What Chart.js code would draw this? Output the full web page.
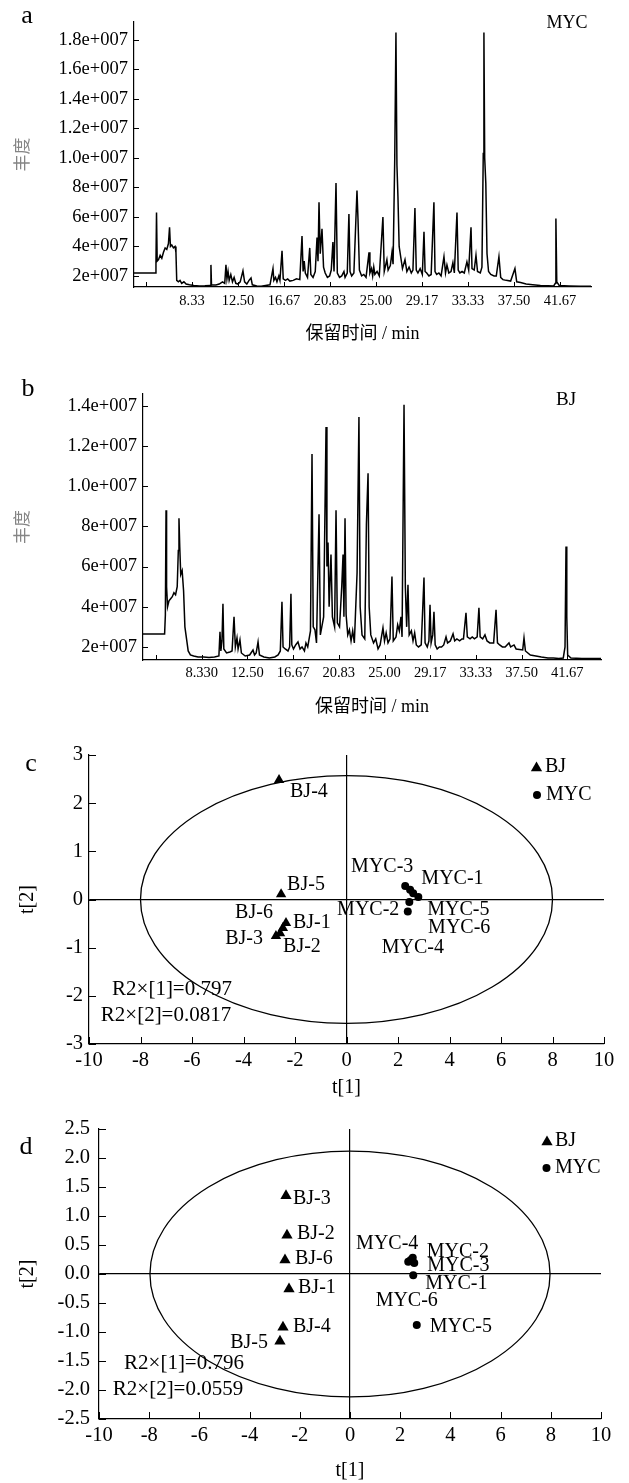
<!DOCTYPE html>
<html>
<head>
<meta charset="utf-8">
<script src="https://cdn.jsdelivr.net/npm/chart.js@4.4.0/dist/chart.umd.min.js"></script>
<style>
  body { margin: 0; background: #fff; }
  #wrap { position: relative; width: 629px; height: 1483px; }
  canvas { position: absolute; left: 0; }
</style>
</head>
<body>
<div id="wrap">
  <canvas id="chartA" width="629" height="345" style="top:0px"></canvas>
  <canvas id="chartB" width="629" height="380" style="top:345px"></canvas>
  <canvas id="chartC" width="629" height="375" style="top:725px"></canvas>
  <canvas id="chartD" width="629" height="383" style="top:1100px"></canvas>
</div>
<script>
// chromatogram traces: [retention time (min), abundance (x1e6)]
const traceMYC = [
  [3.08,2.2],[5.0,2.2],[5.07,2.9],[5.12,6.3],[5.18,3.0],[5.3,3.1],[5.45,3.4],[5.6,3.2],[5.75,3.6],[5.9,3.9],
  [6.05,3.8],[6.2,4.2],[6.3,5.3],[6.38,4.0],[6.5,4.1],[6.65,3.9],[6.8,4.0],[6.88,3.6],[6.95,1.7],[7.1,1.6],
  [7.25,1.7],[7.4,1.5],[7.6,1.6],[7.8,1.45],[8.1,1.4],[8.5,1.35],[9.0,1.32],[9.5,1.33],[9.98,1.35],[10.05,2.75],
  [10.1,1.4],[10.5,1.38],[10.8,1.45],[11.1,1.6],[11.3,1.5],[11.41,2.75],[11.5,1.8],[11.6,2.3],[11.7,1.7],[11.85,2.1],
  [12.0,1.6],[12.15,1.9],[12.3,1.5],[12.5,1.45],[12.7,1.6],[12.95,2.35],[13.1,1.6],[13.3,1.45],[13.5,1.7],[13.68,1.86],
  [13.8,1.4],[14.2,1.32],[14.6,1.3],[15.0,1.35],[15.4,1.4],[15.67,2.5],[15.75,1.7],[15.9,1.9],[16.03,1.6],[16.2,2.0],
  [16.3,1.7],[16.49,3.7],[16.6,1.8],[16.8,1.7],[17.0,1.8],[17.2,1.65],[17.5,1.7],[17.8,1.8],[18.1,1.75],[18.3,4.7],
  [18.4,2.3],[18.5,3.0],[18.6,2.2],[18.8,1.9],[19.0,3.9],[19.1,2.1],[19.3,1.9],[19.5,2.3],[19.66,4.6],[19.75,3.0],
  [19.84,7.0],[19.95,3.5],[20.11,5.2],[20.25,2.6],[20.4,2.2],[20.6,1.9],[20.8,2.0],[20.95,2.4],[21.1,4.3],[21.2,2.3],
  [21.38,8.3],[21.5,2.2],[21.7,1.9],[21.9,2.0],[22.1,2.3],[22.2,1.9],[22.4,2.2],[22.55,6.2],[22.65,2.3],[22.8,2.0],
  [23.0,2.2],[23.28,7.8],[23.37,5.9],[23.5,2.4],[23.7,2.0],[23.9,2.1],[24.1,1.9],[24.37,3.6],[24.45,2.2],[24.6,2.5],
  [24.7,2.0],[24.8,2.6],[24.9,2.1],[25.1,2.3],[25.3,2.0],[25.63,6.0],[25.75,2.3],[25.99,3.1],[26.1,2.4],[26.3,2.7],
  [26.45,3.6],[26.55,2.8],[26.7,9.9],[26.81,18.5],[26.9,9.5],[26.99,7.4],[27.1,4.0],[27.26,3.2],[27.4,2.5],[27.63,3.1],
  [27.8,2.3],[28.0,2.6],[28.2,2.2],[28.35,2.4],[28.53,6.6],[28.65,2.4],[28.8,2.2],[29.0,2.5],[29.2,2.1],[29.35,5.0],
  [29.45,2.3],[29.6,2.2],[29.8,2.0],[30.0,2.1],[30.25,7.0],[30.35,2.3],[30.5,2.1],[30.7,2.2],[30.9,2.0],[31.16,3.3],
  [31.3,2.2],[31.43,2.75],[31.6,2.2],[31.8,2.3],[31.97,2.9],[32.1,2.2],[32.34,6.3],[32.45,2.4],[32.6,2.2],[32.8,2.3],
  [33.0,2.2],[33.24,2.95],[33.4,2.4],[33.61,5.3],[33.7,2.5],[33.9,2.4],[34.06,3.4],[34.2,2.3],[34.45,2.2],[34.6,2.6],
  [34.72,10.3],[34.78,18.5],[34.85,10.0],[34.95,8.3],[35.06,3.5],[35.2,2.3],[35.4,2.1],[35.7,2.0],[35.9,2.0],[36.14,3.3],
  [36.3,1.9],[36.5,1.75],[36.8,1.7],[37.2,1.65],[37.59,2.5],[37.75,1.6],[38.1,1.55],[38.6,1.45],[39.2,1.4],[39.9,1.35],
  [40.6,1.33],[41.1,1.32],[41.25,1.5],[41.3,5.9],[41.38,1.6],[41.6,1.35],[42.5,1.32],[43.5,1.3],[44.48,1.3]
];
const traceBJ = [
  [2.98,2.65],[4.95,2.65],[5.02,3.6],[5.08,8.8],[5.13,5.0],[5.22,4.0],[5.35,4.3],[5.5,4.4],[5.65,4.5],[5.8,4.7],
  [5.95,4.6],[6.1,5.0],[6.2,6.8],[6.26,8.4],[6.33,7.0],[6.42,5.6],[6.55,5.8],[6.68,4.8],[6.8,3.0],[6.95,2.4],
  [7.1,1.8],[7.3,1.6],[7.6,1.55],[8.0,1.5],[8.5,1.5],[9.0,1.48],[9.5,1.5],[9.9,1.55],[10.0,2.75],[10.08,1.8],
  [10.18,2.3],[10.27,4.15],[10.35,1.9],[10.6,1.7],[10.9,1.75],[11.1,1.8],[11.28,3.5],[11.4,2.0],[11.55,2.45],[11.65,1.9],
  [11.82,2.35],[11.95,1.7],[12.3,1.55],[12.7,1.6],[13.01,1.85],[13.15,1.6],[13.3,1.7],[13.47,2.25],[13.6,1.6],[14.0,1.5],
  [14.5,1.45],[15.0,1.5],[15.3,1.6],[15.5,1.8],[15.65,4.25],[15.75,2.0],[15.95,1.9],[16.2,1.8],[16.35,2.0],[16.47,4.65],
  [16.55,2.1],[16.7,1.9],[16.9,2.1],[17.11,2.25],[17.3,1.9],[17.48,2.0],[17.7,1.8],[17.84,2.2],[18.0,2.0],[18.25,2.8],
  [18.39,11.6],[18.5,3.0],[18.66,2.85],[18.8,2.2],[19.03,8.6],[19.15,2.6],[19.45,3.5],[19.67,12.95],[19.75,6.0],[19.85,7.2],
  [19.95,4.0],[20.12,6.6],[20.25,3.5],[20.45,3.0],[20.58,8.8],[20.7,3.2],[20.9,3.0],[21.1,5.0],[21.22,6.6],[21.3,3.5],
  [21.4,8.4],[21.5,3.6],[21.65,2.6],[21.8,2.85],[21.95,2.3],[22.1,2.8],[22.25,2.2],[22.5,5.7],[22.67,13.45],[22.78,4.0],
  [22.95,2.6],[23.2,2.4],[23.35,8.1],[23.5,10.65],[23.6,4.0],[23.75,2.6],[24.0,2.2],[24.2,2.4],[24.41,1.9],[24.6,2.1],
  [24.86,2.95],[25.0,2.3],[25.15,2.7],[25.32,2.2],[25.5,2.4],[25.68,5.5],[25.8,2.3],[26.05,2.5],[26.2,3.1],[26.35,2.8],
  [26.5,3.5],[26.6,2.5],[26.78,14.05],[26.9,5.0],[27.02,3.0],[27.14,5.1],[27.25,2.6],[27.45,2.8],[27.6,2.3],[27.75,2.7],
  [27.9,2.1],[28.1,2.0],[28.35,2.1],[28.6,5.45],[28.7,2.2],[28.9,2.0],[29.05,2.3],[29.15,4.1],[29.25,2.2],[29.4,2.6],
  [29.51,3.75],[29.62,2.1],[29.8,1.9],[30.0,2.0],[30.2,2.0],[30.4,2.1],[30.61,2.5],[30.75,2.2],[31.0,2.3],[31.25,2.65],
  [31.4,2.3],[31.6,2.4],[31.85,2.3],[32.06,2.4],[32.2,2.4],[32.43,3.7],[32.55,2.5],[32.8,2.4],[33.0,2.5],[33.2,2.4],
  [33.45,2.5],[33.61,3.95],[33.72,2.5],[33.95,2.4],[34.16,2.6],[34.35,2.3],[34.6,2.2],[34.95,2.2],[35.17,3.85],[35.3,2.2],
  [35.5,2.1],[35.75,2.0],[36.0,2.0],[36.35,2.2],[36.5,2.0],[36.81,2.1],[37.0,1.9],[37.6,1.85],[37.72,2.45],[37.85,1.8],
  [38.3,1.6],[38.8,1.55],[39.3,1.5],[39.9,1.45],[40.4,1.45],[40.9,1.42],[41.3,1.45],[41.46,2.0],[41.55,7.0],[41.62,3.5],
  [41.7,1.6],[42.0,1.45],[43.0,1.42],[44.74,1.42]
];

// axis ticks for the chromatograms
const timeTicks = [4.1667, 8.3333, 12.5, 16.6667, 20.8333, 25, 29.1667, 33.3333, 37.5, 41.6667];
const timeLabelsA = ['', '8.33', '12.50', '16.67', '20.83', '25.00', '29.17', '33.33', '37.50', '41.67'];
const timeLabelsB = ['', '8.330', '12.50', '16.67', '20.83', '25.00', '29.17', '33.33', '37.50', '41.67'];
const abundTicksA = [2, 4, 6, 8, 10, 12, 14, 16, 18];
const abundLabelsA = ['2e+007', '4e+007', '6e+007', '8e+007', '1.0e+007', '1.2e+007', '1.4e+007', '1.6e+007', '1.8e+007'];
const abundTicksB = [2, 4, 6, 8, 10, 12, 14];
const abundLabelsB = ['2e+007', '4e+007', '6e+007', '8e+007', '1.0e+007', '1.2e+007', '1.4e+007'];

// PCA scores
const bjNames = ['BJ-1', 'BJ-2', 'BJ-3', 'BJ-4', 'BJ-5', 'BJ-6'];
const mycNames = ['MYC-1', 'MYC-2', 'MYC-3', 'MYC-4', 'MYC-5', 'MYC-6'];
const bjC_t1 = [-2.35, -2.58, -2.74, -2.62, -2.54, -2.47];
const bjC_t2 = [-0.49, -0.70, -0.76, 2.48, 0.11, -0.59];
const mycC_t1 = [2.79, 2.44, 2.28, 2.38, 2.59, 2.47];
const mycC_t2 = [0.05, -0.05, 0.28, -0.25, 0.13, 0.20];
const bjD_t1 = [-2.43, -2.51, -2.55, -2.67, -2.79, -2.59];
const bjD_t2 = [-0.26, 0.67, 1.35, -0.92, -1.16, 0.24];
const mycD_t1 = [2.52, 2.50, 2.56, 2.32, 2.66, 2.42];
const mycD_t2 = [-0.02, 0.28, 0.19, 0.21, -0.88, 0.24];

// label placement (pixels from marker): dx, dy, align
const bjC_off = [[7,0,'left'],[3,14,'left'],[-13,3,'right'],[11,12,'left'],[6,-9,'left'],[-10,-15,'right']];
const mycC_off = [[3,-18,'left'],[-10,8,'right'],[-23,-19,'center'],[5,36,'center'],[14,17,'left'],[18,38,'left']];
const bjD_off = [[9,-1,'left'],[10,-1,'left'],[7,3,'left'],[10,-1,'left'],[-12,1,'right'],[10,-1,'left']];
const mycD_off = [[12,9,'left'],[14,-6,'left'],[13,3,'left'],[-21,-18,'center'],[13,2,'left'],[-4,41,'center']];

const SERIF = "'Liberation Serif', 'Times New Roman', serif";
const MIXED = "'Liberation Serif', 'Noto Sans CJK SC', serif";

function drawTri(ctx, x, y, r) {
  ctx.beginPath();
  ctx.moveTo(x, y - r);
  ctx.lineTo(x + r * 0.866, y + r / 2);
  ctx.lineTo(x - r * 0.866, y + r / 2);
  ctx.closePath();
  ctx.fill();
}

function annotPlugin(items) {
  return {
    id: 'annot',
    afterDraw(chart) {
      const ctx = chart.ctx;
      ctx.save();
      items.forEach(it => {
        ctx.fillStyle = '#000';
        if (it.shape === 'tri') drawTri(ctx, it.x, it.y, it.r);
        else if (it.shape === 'dot') { ctx.beginPath(); ctx.arc(it.x, it.y, it.r, 0, Math.PI * 2); ctx.fill(); }
        else {
          ctx.font = it.font;
          ctx.textAlign = it.align || 'left';
          ctx.textBaseline = 'middle';
          ctx.fillText(it.text, it.x, it.y);
        }
      });
      ctx.restore();
    }
  };
}

// tick marks pointing into the plot
function innerTicks(len) {
  return {
    id: 'innerTicks',
    afterDraw(chart) {
      const {ctx, chartArea, scales} = chart;
      ctx.save();
      ctx.strokeStyle = '#000';
      ctx.lineWidth = 1;
      ctx.beginPath();
      scales.x.ticks.forEach(t => {
        const p = Math.round(scales.x.getPixelForValue(t.value)) + 0.5;
        ctx.moveTo(p, chartArea.bottom);
        ctx.lineTo(p, chartArea.bottom - len);
      });
      scales.y.ticks.forEach(t => {
        const p = Math.round(scales.y.getPixelForValue(t.value)) + 0.5;
        ctx.moveTo(chartArea.left, p);
        ctx.lineTo(chartArea.left + len, p);
      });
      ctx.stroke();
      ctx.restore();
    }
  };
}

function ellipsePlugin(a, b) {
  return {
    id: 'ellipse',
    beforeDatasetsDraw(chart) {
      const {ctx, scales: {x, y}} = chart;
      const cx = x.getPixelForValue(0), cy = y.getPixelForValue(0);
      ctx.save();
      ctx.beginPath();
      ctx.ellipse(cx, cy, x.getPixelForValue(a) - cx, cy - y.getPixelForValue(b), 0, 0, Math.PI * 2);
      ctx.lineWidth = 1.3;
      ctx.strokeStyle = '#000';
      ctx.stroke();
      ctx.restore();
    }
  };
}

const pointLabels = {
  id: 'pointLabels',
  afterDatasetsDraw(chart) {
    const ctx = chart.ctx;
    ctx.save();
    ctx.font = '20px ' + SERIF;
    ctx.fillStyle = '#000';
    ctx.textBaseline = 'middle';
    chart.data.datasets.forEach((ds, di) => {
      chart.getDatasetMeta(di).data.forEach((pt, i) => {
        const o = ds.offsets[i];
        ctx.textAlign = o[2];
        ctx.fillText(ds.names[i], pt.x + o[0], pt.y + o[1]);
      });
    });
    ctx.restore();
  }
};

function chromChart(id, cfg) {
  new Chart(document.getElementById(id), {
    type: 'line',
    data: {
      datasets: [{
        data: cfg.trace.map(p => ({x: p[0], y: p[1]})),
        borderColor: '#000',
        borderWidth: 1.5,
        pointRadius: 0,
        tension: 0,
        fill: false
      }]
    },
    options: {
      responsive: false,
      animation: false,
      devicePixelRatio: 1,
      layout: {padding: {left: 0, top: cfg.top, right: cfg.right, bottom: 0}},
      plugins: {legend: {display: false}, tooltip: {enabled: false}},
      scales: {
        x: {
          type: 'linear', min: cfg.xMin, max: cfg.xMax,
          afterBuildTicks: s => { s.ticks = timeTicks.map(v => ({value: v})); },
          afterFit: s => { s.height = cfg.xH; },
          grid: {display: false, drawTicks: false},
          border: {display: true, color: '#000', width: 1.2},
          ticks: {callback: (v, i) => cfg.xLabels[i], autoSkip: false, maxRotation: 0,
                  font: {family: SERIF, size: 14.5}, color: '#000', padding: cfg.xPad},
          title: {display: true, text: '保留时间 / min', color: '#000',
                  font: {family: MIXED, size: 18}, padding: {top: 0, bottom: cfg.xTitlePad}}
        },
        y: {
          type: 'linear', min: cfg.yMin, max: cfg.yMax,
          afterBuildTicks: s => { s.ticks = cfg.yTicks.map(v => ({value: v})); },
          afterFit: s => { s.width = cfg.yW; },
          grid: {display: false, drawTicks: false},
          border: {display: true, color: '#000', width: 1.2},
          ticks: {callback: (v, i) => cfg.yLabels[i], autoSkip: false,
                  font: {family: SERIF, size: 18.5}, color: '#000', padding: 6},
          title: {display: true, text: '丰度', color: '#858585',
                  font: {family: MIXED, size: 17}, padding: {top: 13, bottom: 0}}
        }
      }
    },
    plugins: [innerTicks(5), annotPlugin(cfg.annot)]
  });
}

function pcaChart(id, cfg) {
  const zeroLine = c => (c.tick && c.tick.value === 0 ? '#000' : 'rgba(0,0,0,0)');
  new Chart(document.getElementById(id), {
    type: 'scatter',
    data: {
      datasets: [
        {label: 'BJ', data: cfg.bj1.map((v, i) => ({x: v, y: cfg.bj2[i]})),
         pointStyle: 'triangle', pointRadius: cfg.triR, backgroundColor: '#000', borderColor: '#000', borderWidth: 0,
         names: bjNames, offsets: cfg.bjOff},
        {label: 'MYC', data: cfg.myc1.map((v, i) => ({x: v, y: cfg.myc2[i]})),
         pointStyle: 'circle', pointRadius: 4, backgroundColor: '#000', borderColor: '#000', borderWidth: 0,
         names: mycNames, offsets: cfg.mycOff}
      ]
    },
    options: {
      responsive: false,
      animation: false,
      devicePixelRatio: 1,
      layout: {padding: {left: 0, top: cfg.top, right: cfg.right, bottom: 0}},
      plugins: {legend: {display: false}, tooltip: {enabled: false}},
      scales: {
        x: {
          type: 'linear', min: -10, max: 10,
          afterFit: s => { s.height = cfg.xH; },
          grid: {display: true, drawTicks: false, color: zeroLine, lineWidth: 1.2},
          border: {display: true, color: '#000', width: 1.2},
          ticks: {stepSize: 2, callback: v => String(v), autoSkip: false, maxRotation: 0,
                  font: {family: SERIF, size: 20.5}, color: '#000', padding: 4},
          title: {display: true, text: 't[1]', color: '#000',
                  font: {family: SERIF, size: 20}, padding: {top: 0, bottom: 0}}
        },
        y: {
          type: 'linear', min: cfg.yMin, max: cfg.yMax,
          afterFit: s => { s.width = cfg.yW; },
          grid: {display: true, drawTicks: false, color: zeroLine, lineWidth: 1.2},
          border: {display: true, color: '#000', width: 1.2},
          ticks: {stepSize: cfg.yStep, callback: cfg.yFmt, autoSkip: false,
                  font: {family: SERIF, size: 20.5}, color: '#000', padding: cfg.yPad},
          title: {display: true, text: 't[2]', color: '#000',
                  font: {family: SERIF, size: 20}, padding: {top: 16, bottom: 0}}
        }
      }
    },
    plugins: [ellipsePlugin(cfg.ea, cfg.eb), innerTicks(7), pointLabels, annotPlugin(cfg.annot)]
  });
}

chromChart('chartA', {
  trace: traceMYC, xMin: 3.08, xMax: 44.48, yMin: 1.25, yMax: 19.22,
  xLabels: timeLabelsA, yTicks: abundTicksA, yLabels: abundLabelsA,
  top: 22, right: 38, xH: 58, yW: 134, xPad: 5, xTitlePad: 0,
  annot: [
    {text: 'a', x: 27, y: 16, font: '26px ' + SERIF, align: 'center'},
    {text: 'MYC', x: 567, y: 23, font: '18px ' + SERIF, align: 'center'}
  ]
});

chromChart('chartB', {
  trace: traceBJ, xMin: 2.98, xMax: 44.74, yMin: 1.35, yMax: 14.59,
  xLabels: timeLabelsB, yTicks: abundTicksB, yLabels: abundLabelsB,
  top: 49, right: 28, xH: 65, yW: 143, xPad: 4, xTitlePad: 7,
  annot: [
    {text: 'b', x: 28, y: 44, font: '26px ' + SERIF, align: 'center'},
    {text: 'BJ', x: 566, y: 55, font: '19px ' + SERIF, align: 'center'}
  ]
});

pcaChart('chartC', {
  bj1: bjC_t1, bj2: bjC_t2, myc1: mycC_t1, myc2: mycC_t2, bjOff: bjC_off, mycOff: mycC_off,
  yMin: -3, yMax: 3, yStep: 1, yFmt: v => String(v), ea: 8, eb: 2.57, triR: 6,
  top: 30, right: 25, xH: 56, yW: 89, yPad: 6,
  annot: [
    {text: 'c', x: 31, y: 39, font: '26px ' + SERIF, align: 'center'},
    {shape: 'tri', x: 536.5, y: 43, r: 6.5},
    {text: 'BJ', x: 545, y: 42, font: '20px ' + SERIF},
    {shape: 'dot', x: 537, y: 70, r: 4},
    {text: 'MYC', x: 546, y: 70, font: '20px ' + SERIF},
    {text: 'R2\u00d7[1]=0.797', x: 172, y: 264, font: '21px ' + SERIF, align: 'center'},
    {text: 'R2\u00d7[2]=0.0817', x: 166, y: 290, font: '21px ' + SERIF, align: 'center'}
  ]
});

pcaChart('chartD', {
  bj1: bjD_t1, bj2: bjD_t2, myc1: mycD_t1, myc2: mycD_t2, bjOff: bjD_off, mycOff: mycD_off,
  yMin: -2.5, yMax: 2.5, yStep: 0.5, yFmt: v => v.toFixed(1), ea: 7.97, eb: 2.12, triR: 6.5,
  top: 29, right: 28, xH: 64, yW: 99, yPad: 9,
  annot: [
    {text: 'd', x: 26, y: 47, font: '26px ' + SERIF, align: 'center'},
    {shape: 'tri', x: 547, y: 42, r: 6.5},
    {text: 'BJ', x: 555, y: 41, font: '20px ' + SERIF},
    {shape: 'dot', x: 546.5, y: 68, r: 4},
    {text: 'MYC', x: 555, y: 68, font: '20px ' + SERIF},
    {text: 'R2\u00d7[1]=0.796', x: 184, y: 263, font: '21px ' + SERIF, align: 'center'},
    {text: 'R2\u00d7[2]=0.0559', x: 178, y: 289, font: '21px ' + SERIF, align: 'center'}
  ]
});
</script>
</body>
</html>
